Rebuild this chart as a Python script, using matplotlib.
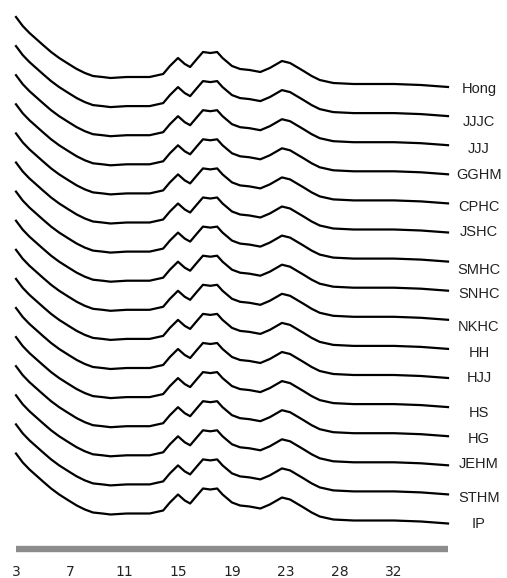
import numpy as np
import matplotlib.pyplot as plt

# ========== data ==========
samples = ['Hong', 'JJJC', 'JJJ', 'GGHM', 'CPHC', 'JSHC', 'SMHC', 'SNHC',
           'NKHC', 'HH', 'HJJ', 'HS', 'HG', 'JEHM', 'STHM', 'IP']

# 2theta (deg) and intensity (a.u.) of one pattern, shared shape
two_theta = [3.0, 3.5, 4.0, 4.5, 5.0, 5.6, 6.2, 6.9, 7.5, 8.1, 8.7,
             9.4, 10.0, 11.2, 12.0, 12.9, 13.9, 14.4, 15.0, 15.5, 15.9,
             16.4, 16.85, 17.4, 17.9, 18.3, 19.0, 19.6, 20.3, 21.1, 21.8,
             22.7, 23.3, 23.8, 24.3, 24.9, 25.5, 26.5, 28.0, 29.5, 31.0,
             33.0, 35.0]
intensity = [70, 61, 54, 48, 42, 35, 29, 23, 18, 14, 11,
             10, 9, 10, 10, 10, 13, 21, 29, 23, 20,
             28, 35, 34, 35, 29, 21, 18, 17, 15, 19,
             26, 24, 20, 16, 11, 7, 4, 3, 3, 3,
             2, 0]

tick_pos = [3, 7, 11, 15, 19, 23, 27, 31]
tick_labels = ['3', '7', '11', '15', '19', '23', '28', '32']

# ========== layout (pixels of the 507x578 canvas) ==========
W, H = 507, 578
x0_px, px_per_deg = 16, 13.5          # 2theta = 3 sits at x0_px
top_end_px, spacing = 87, 29.1        # end of first curve, gap between curves
label_nudge = [2, 6, 4, 1, 4, 0, 8, 3, 7, 4, 0, 6, 3, -1, 4, 1]

def px_x(px):
    return 3 + (px - x0_px) / px_per_deg

fig = plt.figure(figsize=(W / 100, H / 100), dpi=100)
ax = fig.add_axes([0, 0, 1, 1])
ax.set_xlim(px_x(0), px_x(W))
ax.set_ylim(0, H)
ax.axis('off')

tt = np.array(two_theta)
ii = np.array(intensity)
for i, name in enumerate(samples):
    base = H - (top_end_px + i * spacing)
    ax.plot(tt, ii + base, color='black', lw=1.6, solid_joinstyle='round')
    ax.text(px_x(479), base - label_nudge[i], name, ha='center', va='center',
            fontsize=10.5, color='#222222', family='Liberation Sans')

# gray bar for the x axis and its labels
ax.plot([3, 35], [H - 549, H - 549], color='#8c8c8c', lw=4.6,
        solid_capstyle='butt')
for p, lab in zip(tick_pos, tick_labels):
    ax.text(p, H - 572, lab, ha='center', va='center', fontsize=10,
            color='#222222', family='DejaVu Sans')

plt.savefig('out.png', dpi=100)
